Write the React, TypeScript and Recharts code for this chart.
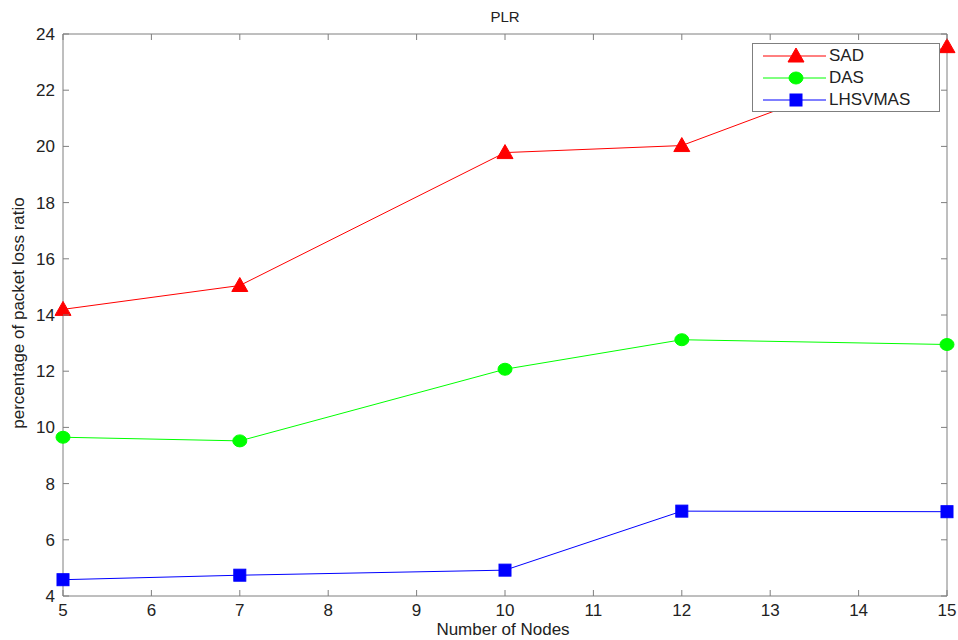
import { Line, LineChart, XAxis, YAxis } from "recharts";

const nodes = [5, 7, 10, 12, 15];
const sad = [14.2, 15.05, 19.78, 20.03, 23.55];
const das = [9.65, 9.52, 12.07, 13.12, 12.95];
const lhsvmas = [4.58, 4.74, 4.92, 7.02, 7.0];

const xTicks = [5, 6, 7, 8, 9, 10, 11, 12, 13, 14, 15];
const yTicks = [4, 6, 8, 10, 12, 14, 16, 18, 20, 22, 24];

const series = [
  { key: "SAD", values: sad, color: "#ff0000", marker: "triangle" },
  { key: "DAS", values: das, color: "#00ff00", marker: "circle" },
  { key: "LHSVMAS", values: lhsvmas, color: "#0000ff", marker: "square" },
];

const data = nodes.map((n, i) => ({
  n,
  SAD: sad[i],
  DAS: das[i],
  LHSVMAS: lhsvmas[i],
}));

const AXIS = "#7f7f7f";
const FONT = "'Liberation Sans', Arial, sans-serif";
const TICK = 6;

function Marker({ cx, cy, type, color }: { cx: number; cy: number; type: string; color: string }) {
  if (cx == null || cy == null) return null;
  if (type === "triangle") {
    return (
      <polygon
        points={`${cx},${cy - 8} ${cx - 8},${cy + 6} ${cx + 8},${cy + 6}`}
        fill={color}
        stroke={color}
      />
    );
  }
  if (type === "circle") {
    return <ellipse cx={cx} cy={cy} rx={7} ry={6} fill={color} stroke={color} />;
  }
  return <rect x={cx - 6} y={cy - 6} width={12} height={12} fill={color} stroke={color} />;
}

const bottomTick = (p: any) => (
  <g>
    <line x1={p.x} y1={p.y} x2={p.x} y2={p.y - TICK} stroke={AXIS} />
    <text x={p.x} y={p.y + 20} textAnchor="middle" fontSize={17} fill="#222" fontFamily={FONT}>
      {p.payload.value}
    </text>
  </g>
);
const topTick = (p: any) => <line x1={p.x} y1={p.y} x2={p.x} y2={p.y + TICK} stroke={AXIS} />;
const leftTick = (p: any) => (
  <g>
    <line x1={p.x} y1={p.y} x2={p.x + TICK} y2={p.y} stroke={AXIS} />
    <text x={p.x - 8} y={p.y + 6} textAnchor="end" fontSize={17} fill="#222" fontFamily={FONT}>
      {p.payload.value}
    </text>
  </g>
);
const rightTick = (p: any) => <line x1={p.x} y1={p.y} x2={p.x - TICK} y2={p.y} stroke={AXIS} />;

function LegendBox() {
  return (
    <div
      style={{
        position: "absolute",
        left: 752,
        top: 43,
        width: 188,
        height: 69,
        border: `1px solid ${AXIS}`,
        background: "#fff",
        boxSizing: "border-box",
        paddingTop: 1,
      }}
    >
      {series.map((s) => (
        <div key={s.key} style={{ display: "flex", alignItems: "center", height: 22 }}>
          <svg width={76} height={22}>
            <line x1={10} y1={11} x2={73} y2={11} stroke={s.color} strokeWidth={1} />
            <Marker cx={43} cy={11} type={s.marker} color={s.color} />
          </svg>
          <span style={{ fontFamily: FONT, fontSize: 17, color: "#222" }}>{s.key}</span>
        </div>
      ))}
    </div>
  );
}

export default function App() {
  return (
    <div style={{ position: "absolute", left: 0, top: 0, width: 958, height: 640, background: "#fff" }}>
      <LineChart width={958} height={640} data={data} margin={{ top: 33, right: 10, bottom: 14, left: 23 }}>
        <XAxis
          dataKey="n"
          type="number"
          domain={[5, 15]}
          ticks={xTicks}
          interval={0}
          stroke={AXIS}
          tickLine={false}
          tickSize={0}
          tickMargin={0}
          height={30}
          tick={bottomTick}
        />
        <XAxis
          xAxisId="top"
          orientation="top"
          dataKey="n"
          type="number"
          domain={[5, 15]}
          ticks={xTicks}
          interval={0}
          stroke={AXIS}
          tickLine={false}
          tickSize={0}
          tickMargin={0}
          height={1}
          tick={topTick}
        />
        <YAxis
          type="number"
          domain={[4, 24]}
          ticks={yTicks}
          interval={0}
          stroke={AXIS}
          tickLine={false}
          tickSize={0}
          tickMargin={0}
          width={40}
          tick={leftTick}
        />
        <YAxis
          yAxisId="right"
          orientation="right"
          type="number"
          domain={[4, 24]}
          ticks={yTicks}
          interval={0}
          stroke={AXIS}
          tickLine={false}
          tickSize={0}
          tickMargin={0}
          width={1}
          tick={rightTick}
        />
        {/* invisible series so the top/right frame axes are registered */}
        <Line
          xAxisId="top"
          yAxisId="right"
          dataKey="SAD"
          stroke="none"
          dot={false}
          activeDot={false}
          legendType="none"
          isAnimationActive={false}
        />
        {series.map((s) => (
          <Line
            key={s.key}
            type="linear"
            dataKey={s.key}
            stroke={s.color}
            strokeWidth={1}
            isAnimationActive={false}
            dot={(p: any) => <Marker key={`${s.key}-${p.index}`} cx={p.cx} cy={p.cy} type={s.marker} color={s.color} />}
            activeDot={false}
          />
        ))}
        <text x={505} y={22} textAnchor="middle" fontSize={15} fill="#222" fontFamily={FONT}>
          PLR
        </text>
        <text x={503} y={635} textAnchor="middle" fontSize={17} fill="#222" fontFamily={FONT}>
          Number of Nodes
        </text>
        <text
          x={24}
          y={313}
          textAnchor="middle"
          fontSize={17}
          fill="#222"
          fontFamily={FONT}
          transform="rotate(-90 24 313)"
        >
          percentage of packet loss ratio
        </text>
      </LineChart>
      <LegendBox />
    </div>
  );
}
